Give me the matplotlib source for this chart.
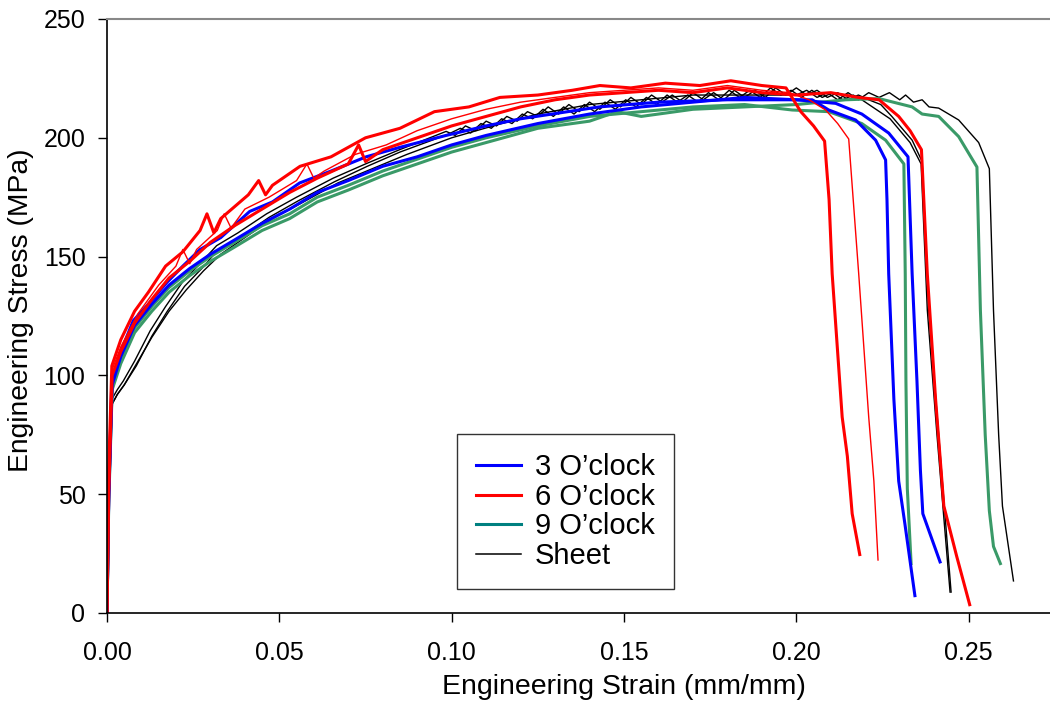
import matplotlib
matplotlib.use("Agg")
import matplotlib.pyplot as plt
from matplotlib.lines import Line2D

plt.rcParams['font.family'] = ['Liberation Sans', 'DejaVu Sans']

# ---- data (strain mm/mm, stress MPa) ----
# 6 O'clock
red_a_x = [0, 0.0005, 0.0014, 0.004, 0.008, 0.012, 0.017, 0.022, 0.027, 0.029, 0.031, 0.033,
           0.041, 0.044, 0.046, 0.048, 0.056, 0.065, 0.075, 0.085, 0.095, 0.105, 0.114, 0.125,
           0.135, 0.143, 0.152, 0.162, 0.172, 0.181, 0.190, 0.197, 0.2013, 0.2050, 0.2082,
           0.2095, 0.2104, 0.2133, 0.2148, 0.2162, 0.2184]
red_a_y = [0, 60, 104, 115, 127, 135, 146, 152, 161, 168, 160, 166,
           176, 182, 176, 180, 188, 192, 200, 204, 211, 213, 217, 218,
           220, 222, 221, 223, 222, 224, 222, 221, 211, 205, 198.6,
           174, 142.7, 82.5, 66, 41.8, 24.6]

red_t_x = [0, 0.0005, 0.0014, 0.004, 0.009, 0.015, 0.02, 0.022, 0.024, 0.026, 0.032, 0.034,
           0.036, 0.04, 0.047, 0.055, 0.058, 0.06, 0.063, 0.072, 0.081, 0.09, 0.1, 0.11, 0.12,
           0.13, 0.14, 0.15, 0.16, 0.17, 0.18, 0.19, 0.198, 0.2037, 0.2085, 0.212, 0.2152,
           0.2181, 0.221, 0.2225, 0.2237]
red_t_y = [0, 55, 102, 112, 126, 138, 146, 153, 147, 153, 161, 168,
           162, 170, 175, 182, 189, 183, 186, 193, 197, 203, 208, 212, 215,
           217, 219, 220, 221, 220, 222, 220, 219, 216, 211.7, 206, 199.5,
           142.7, 82.5, 55.5, 22.3]

red_b_x = [0, 0.0005, 0.0015, 0.004, 0.008, 0.013, 0.018, 0.024, 0.03, 0.037, 0.045, 0.053,
           0.061, 0.07, 0.073, 0.075, 0.08, 0.09, 0.1, 0.11, 0.12, 0.13, 0.14, 0.15, 0.16,
           0.17, 0.18, 0.19, 0.2, 0.21, 0.218, 0.224, 0.2297, 0.233, 0.2363, 0.238, 0.2404,
           0.2428, 0.2465, 0.2503]
red_b_y = [0, 50, 100, 110, 122, 132, 141, 148, 156, 163, 170, 177,
           183, 189, 197, 190, 195, 200, 205, 209, 213, 216, 218, 219, 220,
           219, 221, 219, 218, 219, 217, 216, 209, 203, 195, 142.7, 90,
           45, 24, 3.5]

# 3 O'clock
blue_1_x = [0, 0.0005, 0.0014, 0.004, 0.0076, 0.012, 0.0173, 0.022, 0.027, 0.033, 0.0414,
            0.048, 0.0559, 0.065, 0.0752, 0.085, 0.0984, 0.11, 0.12, 0.1428, 0.16, 0.18,
            0.195, 0.2046, 0.2094, 0.2172, 0.223, 0.2259, 0.2263, 0.2268, 0.2283, 0.2297,
            0.2315, 0.2344]
blue_1_y = [0, 50, 98, 110, 123, 130, 139, 146, 153, 158, 169,
            173, 181, 186, 192, 196, 201, 205, 208, 213, 215, 216,
            216, 216, 211.7, 207.5, 199, 190.7, 174, 142.7, 90, 55.5,
            37.5, 7.3]

blue_2_x = [0, 0.0005, 0.0015, 0.004, 0.008, 0.013, 0.018, 0.024, 0.03, 0.037, 0.045,
            0.053, 0.061, 0.07, 0.08, 0.09, 0.1, 0.11, 0.125, 0.14, 0.155, 0.17, 0.185,
            0.2, 0.2114, 0.219, 0.2268, 0.2324, 0.2336, 0.235, 0.236, 0.2367, 0.2417]
blue_2_y = [0, 48, 96, 108, 121, 130, 138, 145, 151, 157, 164,
            170, 177, 182, 188, 192, 197, 201, 206, 210, 213, 215, 217,
            216, 214.5, 210, 202, 192, 142.7, 97.6, 60, 41.8, 21.5]

# 9 O'clock
green_1_x = [0, 0.0005, 0.0015, 0.004, 0.008, 0.013, 0.018, 0.024, 0.03, 0.037, 0.045,
             0.053, 0.061, 0.07, 0.08, 0.09, 0.1, 0.11, 0.125, 0.14, 0.155, 0.17, 0.185,
             0.1988, 0.2094, 0.219, 0.2259, 0.2312, 0.2316, 0.2318, 0.2322, 0.2333]
green_1_y = [0, 50, 96, 107, 120, 129, 137, 144, 150, 156, 163,
             168, 175, 180, 186, 191, 196, 200, 205, 209, 211, 213, 214,
             211.7, 211, 206, 199, 189, 142.7, 97.6, 52.4, 20.8]

green_2_x = [0, 0.0005, 0.0015, 0.004, 0.008, 0.013, 0.018, 0.024, 0.03, 0.037, 0.045,
             0.053, 0.061, 0.07, 0.08, 0.09, 0.1, 0.11, 0.125, 0.14, 0.148, 0.155, 0.17,
             0.185, 0.2, 0.2143, 0.224, 0.2336, 0.2365, 0.2413, 0.2471, 0.2524, 0.2534,
             0.2548, 0.256, 0.2572, 0.2592]
green_2_y = [0, 46, 94, 105, 118, 127, 135, 142, 148, 154, 161,
             166, 173, 178, 184, 189, 194, 198, 204, 207, 211, 209, 212,
             213, 214, 216, 216.5, 213, 210, 209, 200.5, 187.7, 127.5,
             75, 43, 28, 20.8]

# Sheet (serrated plateau)
black_1_x = [0, 0.0006, 0.0014, 0.003, 0.0047, 0.008, 0.0125, 0.017, 0.0221, 0.027, 0.0318,
             0.038, 0.0463, 0.055, 0.0656, 0.075, 0.0849, 0.0984, 0.101, 0.104, 0.107, 0.11,
             0.113, 0.116, 0.119, 0.122, 0.125, 0.128, 0.131, 0.134, 0.137, 0.14, 0.143,
             0.146, 0.149, 0.152, 0.155, 0.158, 0.161, 0.164, 0.167, 0.17, 0.173, 0.176,
             0.179, 0.182, 0.185, 0.188, 0.191, 0.194, 0.197, 0.2, 0.203, 0.206, 0.209,
             0.212, 0.215, 0.218, 0.221, 0.2245, 0.2277, 0.2336, 0.2365, 0.2384, 0.2413,
             0.2432, 0.2449]
black_1_y = [0, 50, 90, 94, 97.6, 106, 118.7, 129, 139.7, 147, 154.6,
             160, 168, 175, 183, 189, 195, 202.7, 201, 205, 203, 207,
             205, 209, 207, 211, 209, 213, 210, 214, 211, 215, 212,
             216, 213, 217, 214, 218, 215, 218, 215, 219, 216, 219,
             216, 220, 217, 220, 217, 221, 218, 221, 218, 220, 217,
             219, 216, 218, 216, 214, 209, 199, 190, 127.5, 75,
             40, 8.8]

black_1b_x = [0, 0.0006, 0.0015, 0.003, 0.005, 0.0085, 0.013, 0.0175, 0.0225, 0.0275, 0.032,
              0.0385, 0.047, 0.0555, 0.066, 0.0755, 0.085, 0.099, 0.1025, 0.1055, 0.1085,
              0.1115, 0.1145, 0.1175, 0.1205, 0.1235, 0.1265, 0.1295, 0.1325, 0.1355, 0.1385,
              0.1415, 0.1445, 0.1475, 0.1505, 0.1535, 0.1565, 0.1595, 0.1625, 0.1655, 0.1685,
              0.1715, 0.1745, 0.1775, 0.1805, 0.1835, 0.1865, 0.1895, 0.1925, 0.1955, 0.1985,
              0.2015, 0.2045, 0.2075, 0.2105, 0.2135, 0.2165, 0.219, 0.2272, 0.233, 0.2362,
              0.238, 0.2408, 0.2428, 0.2446]
black_1b_y = [0, 48, 88, 92, 96, 104, 116.5, 127, 137.5, 145, 152.5,
              158, 166.5, 173.5, 181.5, 188, 194, 201.5, 204, 202, 206,
              204, 208, 206, 210, 208, 212, 209, 213, 210, 214,
              211, 215, 212, 216, 213, 217, 214, 218, 215, 218,
              215, 219, 216, 220, 217, 220, 217, 221, 218, 220,
              217, 220, 217, 219, 216, 218, 216, 208, 198, 189,
              127.5, 75, 40, 8.8]

black_2_x = [0, 0.0006, 0.0015, 0.003, 0.005, 0.009, 0.013, 0.018, 0.023, 0.028, 0.033,
             0.04, 0.048, 0.057, 0.067, 0.077, 0.087, 0.1, 0.112, 0.125, 0.14, 0.155, 0.17,
             0.185, 0.2, 0.203, 0.206, 0.209, 0.212, 0.215, 0.218, 0.221, 0.224, 0.227, 0.23,
             0.2317, 0.234, 0.2365, 0.2385, 0.2413, 0.2471, 0.2529, 0.256, 0.2572, 0.2587,
             0.2598, 0.263]
black_2_y = [0, 48, 88, 92, 96, 106, 116, 127, 136, 144, 151,
             158, 166, 173, 181, 187, 193, 200, 205, 210, 214, 216, 218,
             218, 218, 220, 217, 219, 216, 219, 216, 219, 217, 219, 216,
             218, 215, 216, 213, 212.5, 207.5, 198, 187, 127.5, 75,
             45, 13.5]

legend_labels = ['3 O\u2019clock', '6 O\u2019clock', '9 O\u2019clock', 'Sheet']

blue = '#0000ff'
red = '#ff0000'
green = '#3a9a68'
teal = '#008080'

fig = plt.figure(figsize=(10.5, 7.04), dpi=100)
ax = fig.add_axes([107 / 1050, 91 / 704, 1034 / 1050, 594 / 704])

ax.plot(black_1_x, black_1_y, color='black', lw=1.0)
ax.plot(black_1b_x, black_1b_y, color='black', lw=1.0)
ax.plot(black_2_x, black_2_y, color='black', lw=1.0)
ax.plot(green_1_x, green_1_y, color=green, lw=2.2)
ax.plot(green_2_x, green_2_y, color=green, lw=2.2)
ax.plot(blue_1_x, blue_1_y, color=blue, lw=2.2)
ax.plot(blue_2_x, blue_2_y, color=blue, lw=2.2)
ax.plot(red_t_x, red_t_y, color=red, lw=1.0)
ax.plot(red_a_x, red_a_y, color=red, lw=2.2)
ax.plot(red_b_x, red_b_y, color=red, lw=2.2)

ax.set_xlim(0, 0.3)
ax.set_ylim(0, 250)
ax.set_xticks([0, 0.05, 0.10, 0.15, 0.20, 0.25])
ax.set_xticklabels(['0.00', '0.05', '0.10', '0.15', '0.20', '0.25'])
ax.set_yticks([0, 50, 100, 150, 200, 250])
ax.tick_params(direction='out', length=6.5, width=1, labelsize=18)
ax.tick_params(axis='x', pad=14)
ax.tick_params(axis='y', pad=9)

ax.spines['top'].set_color('#888888')
ax.spines['top'].set_linewidth(1.5)
ax.spines['left'].set_linewidth(1.2)
ax.spines['bottom'].set_linewidth(1.2)

ax.set_xlabel('Engineering Strain (mm/mm)', fontsize=20.5, labelpad=6)
ax.set_ylabel('Engineering Stress (MPa)', fontsize=20.3)
ax.yaxis.set_label_coords(-0.0706, 0.51)

handles = [Line2D([], [], color=blue, lw=2.2),
           Line2D([], [], color=red, lw=2.2),
           Line2D([], [], color=teal, lw=2.2),
           Line2D([], [], color='black', lw=1.1)]
leg = ax.legend(handles, legend_labels, loc='lower left',
                bbox_to_anchor=(0.3385, 0.0404), borderaxespad=0,
                fontsize=21, frameon=True, fancybox=False, handlelength=1.55,
                labelspacing=0.05, borderpad=0.66, handletextpad=0.45)
leg.get_frame().set_edgecolor('black')
leg.get_frame().set_linewidth(1.0)

fig.savefig('out.png', dpi=100)
